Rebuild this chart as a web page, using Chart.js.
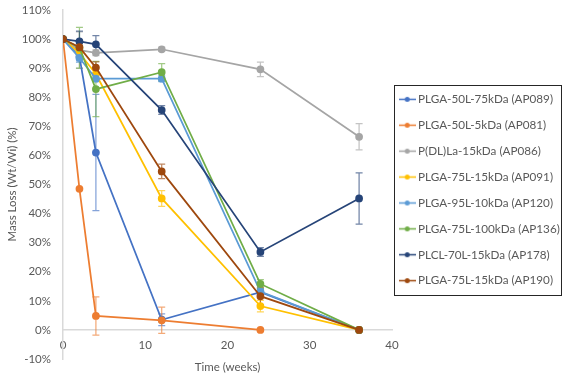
<!DOCTYPE html>
<html>
<head>
<meta charset="utf-8">
<script src="https://cdn.jsdelivr.net/npm/chart.js@4"></script>
<style>
  html, body { margin: 0; padding: 0; background: #fff; }
</style>
</head>
<body>
<canvas id="massChart" width="565" height="380"></canvas>
<script>
// sampling times (weeks)
const weeks = [0, 2, 4, 12, 24, 36];

const seriesNames = [
    'PLGA-50L-75kDa (AP089)',
    'PLGA-50L-5kDa (AP081)',
    'P(DL)La-15kDa (AP086)',
    'PLGA-75L-15kDa (AP091)',
    'PLGA-95L-10kDa (AP120)',
    'PLGA-75L-100kDa (AP136)',
    'PLCL-70L-15kDa (AP178)',
    'PLGA-75L-15kDa (AP190)'
];
const seriesColors = ['#4472C4', '#ED7D31', '#A5A5A5', '#FFC000', '#5B9BD5', '#70AD47', '#264478', '#9E480E'];

// mass remaining (%) per sample
const ap089 = [100, 94, 61, 3.5, 13, 0];
const ap081 = [100, 48.5, 4.8, 3.3, 0, null];
const ap086 = [100, 96.2, 95.3, 96.5, 89.6, 66.4];
const ap091 = [100, 95.2, 88, 45.2, 8.2, 0];
const ap120 = [100, 93.5, 86.4, 86.4, 13.2, 0];
const ap136 = [100, 97, 82.8, 88.6, 15.8, 0];
const ap178 = [100, 99.2, 98.2, 75.6, 26.8, 45.2];
const ap190 = [100, 97.2, 90.2, 54.5, 11.6, 0];

// error bar half-widths (%)
const err089 = [0, 1.5, 20, 2, 1, 0];
const err081 = [0, 0, 6.6, 4.5, 0, 0];
const err086 = [0, 6.3, 1, 0.7, 2.5, 4.5];
const err091 = [0, 1.5, 2, 2.7, 2, 0];
const err120 = [0, 1.5, 1, 1, 1, 0];
const err136 = [0, 7, 9.5, 3, 1.5, 0];
const err178 = [0, 3.5, 3, 1.5, 1.5, 8.8];
const err190 = [0, 1.5, 2, 2.5, 3, 0];

const seriesValues = [ap089, ap081, ap086, ap091, ap120, ap136, ap178, ap190];
const seriesErrors = [err089, err081, err086, err091, err120, err136, err178, err190];

const yTicks = { min: -10, max: 110, step: 10 };
const xTicks = { min: 0, max: 40, step: 10 };

const FONT = 'Lato';
const TEXT = '#595959';

function legendMarker(color) {
    const c = document.createElement('canvas');
    c.width = 17; c.height = 7;
    const g = c.getContext('2d');
    g.strokeStyle = color;
    g.lineWidth = 1.5;
    g.beginPath(); g.moveTo(0, 3.5); g.lineTo(17, 3.5); g.stroke();
    g.fillStyle = color;
    g.beginPath(); g.arc(8.5, 3.5, 2.5, 0, Math.PI * 2); g.fill();
    return c;
}

const datasets = seriesNames.map((name, i) => ({
    label: name,
    data: weeks.map((w, j) => ({ x: w, y: seriesValues[i][j] })),
    borderColor: seriesColors[i],
    backgroundColor: seriesColors[i],
    pointBackgroundColor: seriesColors[i],
    pointBorderColor: seriesColors[i],
    borderWidth: 1.75,
    pointRadius: 3,
    tension: 0,
    order: seriesNames.length - i
}));

// error bars drawn with the chart's own scales
const errorBars = {
    id: 'errorBars',
    beforeDatasetsDraw(chart) {
        const ctx = chart.ctx;
        const xs = chart.scales.x, ys = chart.scales.y;
        ctx.save();
        chart.data.datasets.forEach((ds, i) => {
            const errs = seriesErrors[i];
            ds.data.forEach((p, j) => {
                if (p.y == null || !errs[j]) return;
                const x = xs.getPixelForValue(p.x);
                const y1 = ys.getPixelForValue(p.y + errs[j]);
                const y2 = ys.getPixelForValue(p.y - errs[j]);
                ctx.strokeStyle = seriesColors[i];
                ctx.globalAlpha = 0.65;
                ctx.lineWidth = 1.25;
                ctx.beginPath();
                ctx.moveTo(x, y1); ctx.lineTo(x, y2);
                ctx.moveTo(x - 3.5, y1); ctx.lineTo(x + 3.5, y1);
                ctx.moveTo(x - 3.5, y2); ctx.lineTo(x + 3.5, y2);
                ctx.stroke();
            });
        });
        ctx.restore();
    }
};

// move the legend a bit and frame it
const legendFrame = {
    id: 'legendFrame',
    afterLayout(chart) {
        const lg = chart.legend;
        lg.left -= 4; lg.right -= 4;
        lg.top += 5.5; lg.bottom += 5.5;
    },
    afterDraw(chart) {
        const hb = chart.legend.legendHitBoxes;
        if (!hb || !hb.length) return;
        const first = hb[0], last = hb[hb.length - 1];
        const ctx = chart.ctx;
        const left = Math.round(first.left - 8) + 0.5;
        const top = Math.round(first.top - 8) + 0.5;
        const bottom = Math.round(last.top + last.height + 8) + 0.5;
        const right = chart.width - 3.5;
        ctx.save();
        ctx.strokeStyle = '#262626';
        ctx.lineWidth = 1;
        ctx.strokeRect(left, top, right - left, bottom - top);
        ctx.restore();
    }
};

new Chart(document.getElementById('massChart'), {
    type: 'line',
    data: { datasets: datasets },
    plugins: [errorBars, legendFrame],
    options: {
        responsive: false,
        animation: false,
        layout: { padding: { top: 10, bottom: 21, left: 0, right: 0 } },
        scales: {
            x: {
                type: 'linear',
                position: { y: 0 },
                min: xTicks.min,
                max: xTicks.max,
                grid: { display: false, drawTicks: false },
                border: { display: true, color: '#D9D9D9', width: 1.5 },
                ticks: { stepSize: xTicks.step, color: TEXT, font: { family: FONT, size: 11.5 }, padding: 8 },
                title: { display: true, text: 'Time (weeks)', color: TEXT, font: { family: FONT, size: 11.5 }, padding: { top: 1, bottom: 0 } }
            },
            y: {
                min: yTicks.min,
                max: yTicks.max,
                grid: { display: false, drawTicks: false },
                border: { display: true, color: '#D9D9D9', width: 1.5 },
                ticks: { stepSize: yTicks.step, color: TEXT, font: { family: FONT, size: 11.5 }, padding: 12,
                    callback: v => v + '%' },
                title: { display: true, text: 'Mass Loss (Wt/Wi) (%)', color: TEXT, font: { family: FONT, size: 11.5 }, padding: { top: 5, bottom: 0 } },
                afterFit(scale) {
                    scale.width = 63;
                    scale.paddingTop = 0;
                    scale.paddingBottom = 0;
                }
            }
        },
        plugins: {
            legend: {
                position: 'right',
                maxWidth: 173,
                labels: {
                    color: TEXT,
                    font: { family: FONT, size: 11.7 },
                    padding: 14.2,
                    usePointStyle: true,
                    pointStyleWidth: 10,
                    generateLabels(chart) {
                        return chart.data.datasets.map((ds, i) => ({
                            text: ds.label,
                            fontColor: TEXT,
                            pointStyle: legendMarker(seriesColors[i]),
                            fillStyle: seriesColors[i],
                            strokeStyle: seriesColors[i],
                            lineWidth: 0,
                            hidden: false,
                            datasetIndex: i
                        }));
                    }
                }
            },
            tooltip: { enabled: false }
        }
    }
});
</script>
</body>
</html>
